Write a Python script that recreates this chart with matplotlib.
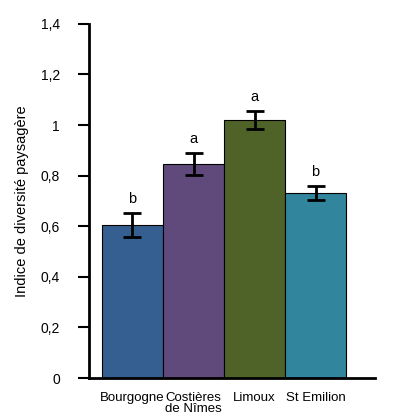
import numpy as np
import matplotlib
matplotlib.use("Agg")
import matplotlib.pyplot as plt

plt.rcParams['font.family'] = ['Liberation Sans', 'DejaVu Sans']

sites = ["Bourgogne", "Costières\nde Nîmes", "Limoux", "St Emilion"]
values = [0.605, 0.846, 1.02, 0.73]
errors = [0.047, 0.043, 0.034, 0.028]
letters = ["b", "a", "a", "b"]
colors = ["#365F91", "#604A7B", "#4F6228", "#31859C"]

fig = plt.figure(figsize=(4, 4.12), dpi=100)
ax = fig.add_axes([0.2225, 0.0825, 0.715, 0.8595])

x = np.arange(len(sites))
ax.bar(x, values, width=1.0, color=colors, edgecolor="black", linewidth=0.8)
ax.errorbar(x, values, yerr=errors, fmt="none", ecolor="black",
            elinewidth=2, capsize=6.5, capthick=2)
for xi, v, e, lt in zip(x, values, errors, letters):
    ax.text(xi, v + e + 0.03, lt, ha="center", va="bottom", fontsize=10.5)

ax.set_xlim(-0.713, 3.975)
ax.set_ylim(0, 1.4)
ax.set_yticks(np.arange(0, 1.41, 0.2))
ax.set_yticklabels(["0", "0,2", "0,4", "0,6", "0,8", "1", "1,2", "1,4"])
ax.set_xticks(x)
ax.set_xticklabels(sites, fontsize=9.5, linespacing=0.9)
ax.tick_params(axis="x", length=0, pad=10)
ax.tick_params(axis="y", length=8, width=1.5, labelsize=10, pad=13)
ax.set_ylabel("Indice de diversité paysagère", fontsize=10.5, labelpad=8)

for s in ["top", "right"]:
    ax.spines[s].set_visible(False)
for s in ["left", "bottom"]:
    ax.spines[s].set_linewidth(2)

fig.savefig("out.png", dpi=100)
